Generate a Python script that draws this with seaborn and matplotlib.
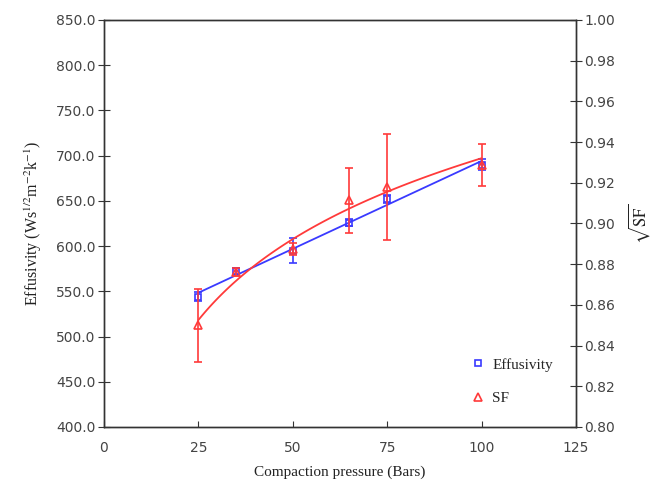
import numpy as np
import pandas as pd
import seaborn as sns
import matplotlib.pyplot as plt
from matplotlib.lines import Line2D

pressure = [25, 35, 50, 65, 75, 100]
effusivity = [544, 572, 595, 626, 652, 690]
effusivity_err = [5, 4, 14, 4, 4, 6]
sf = [0.850, 0.876, 0.8875, 0.9115, 0.918, 0.9287]
sf_err = [0.018, 0.002, 0.003, 0.016, 0.026, 0.0104]

df = pd.DataFrame({"pressure": pressure, "effusivity": effusivity, "sf": sf})

blue = "#3a3aff"
red = "#ff3a3a"

sns.set_style("ticks")
plt.rcParams["font.family"] = ["DejaVu Sans"]
plt.rcParams["mathtext.fontset"] = "stix"
serif = "Liberation Serif"

fig = plt.figure(figsize=(6.62, 5), dpi=100)
ax = fig.add_axes([0.157, 0.146, 0.713, 0.814])
ax2 = ax.twinx()

# effusivity: linear trend + points with error bars
sns.regplot(data=df, x="pressure", y="effusivity", ax=ax, scatter=False, ci=None,
            color=blue, line_kws={"lw": 1.3})
ax.errorbar(pressure, effusivity, yerr=effusivity_err, fmt="s", mfc="none", mec=blue,
            ecolor=blue, ms=5, mew=1.2, capsize=3, elinewidth=1.2, zorder=5)

# SF: log trend + points with error bars
sns.regplot(data=df, x="pressure", y="sf", ax=ax2, scatter=False, ci=None, logx=True,
            color=red, line_kws={"lw": 1.3})
ax2.errorbar(pressure, sf, yerr=sf_err, fmt="^", mfc="none", mec=red,
             ecolor=red, ms=6, mew=1.2, capsize=3, elinewidth=1.2, zorder=5)

ax.set_xlim(0, 125)
ax.set_ylim(400, 850)
ax2.set_ylim(0.80, 1.00)
ax.set_xticks(np.arange(0, 126, 25))
ax.set_yticks(np.arange(400, 851, 50))
ax.set_yticklabels([f"{v:.1f}" for v in np.arange(400, 851, 50)])
ax2.set_yticks(np.arange(0.80, 1.001, 0.02))
ax2.set_yticklabels([f"{v:.2f}" for v in np.arange(0.80, 1.001, 0.02)])

tick_color = "#444444"
for a in (ax, ax2):
    for s in a.spines.values():
        s.set_color("#333333")
        s.set_linewidth(1.0)
ax.tick_params(axis="y", direction="inout", length=8, labelsize=10, colors="#333333",
               labelcolor=tick_color, pad=2)
ax.tick_params(axis="x", direction="in", length=4, labelsize=10, colors="#333333",
               labelcolor=tick_color, pad=10)
ax2.tick_params(axis="y", direction="inout", length=8, labelsize=10, colors="#333333",
                labelcolor=tick_color, pad=2)
ax2.spines["top"].set_visible(True)
ax.spines["top"].set_visible(True)
ax.spines["right"].set_visible(True)

ax.set_xlabel("Compaction pressure (Bars)", family=serif, fontsize=11, color="#222222", labelpad=8)
ax.set_ylabel(r"Effusivity (Ws$^{1/2}$m$^{-2}$k$^{-1}$)", family=serif, fontsize=11.5,
              color="#222222", labelpad=9)
ax2.set_ylabel(r"$\sqrt{\mathrm{SF}}$", fontsize=12, color="#222222", labelpad=8, rotation=90)

handles = [
    Line2D([], [], marker="s", ls="none", mfc="none", mec=blue, ms=5, mew=1.2),
    Line2D([], [], marker="^", ls="none", mfc="none", mec=red, ms=6, mew=1.2),
]
ax.legend(handles, ["Effusivity", "SF"], loc="lower right", bbox_to_anchor=(0.98, 0.02),
          frameon=False, prop={"family": serif, "size": 11}, handletextpad=0.4,
          labelspacing=1.3, handlelength=1.0)

fig.savefig("out.png", dpi=100)
